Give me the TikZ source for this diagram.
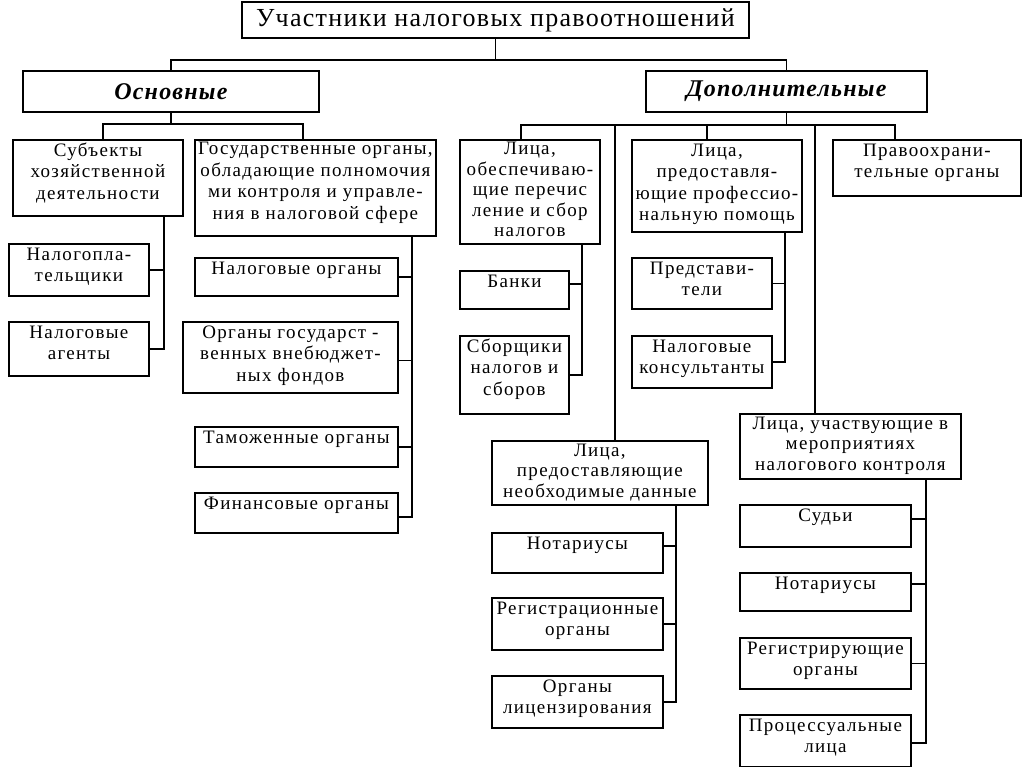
\documentclass[tikz,border=0pt]{standalone}
\usepackage{fontspec}
\setmainfont{Liberation Serif}[LetterSpace=7]
\newfontfamily\ttlfont{Liberation Serif}[LetterSpace=5]
\newfontfamily\hdfont{Liberation Serif}[LetterSpace=5]
\tikzset{
  box/.style={draw, line width=1.8pt, inner sep=0pt, anchor=north west,
    font=\fontsize{19}{21.5}\selectfont},
  hdr/.style={draw, line width=1.8pt, inner sep=0pt, anchor=north west,
    font=\hdfont\fontsize{24}{26}\selectfont\bfseries\itshape},
  ttl/.style={draw, line width=1.8pt, inner sep=0pt, anchor=north west,
    font=\ttlfont\fontsize{26}{28}\selectfont},
  conn/.style={line width=1.8pt},
}
\newcommand\mkbox[7][16.5]{\node[box] (#2) at (#3,#4) {\parbox[c][#6pt][t]{#5pt}{\centering\rule{0pt}{#1pt}#7}};}
\newcommand\tight{\fontsize{19}{20.5}\selectfont}
\begin{document}
\begin{tikzpicture}[x=1pt,y=-1pt]
\useasboundingbox[fill=white] (0,0) rectangle (1024,767);
% headers
\node[ttl, minimum width=507pt, minimum height=36pt] (title) at (241,1) {\raisebox{2pt}{Участники налоговых правоотношений}};
\node[hdr, minimum width=296pt, minimum height=41pt] (osn) at (22,70) {Основные};
\node[hdr, minimum width=281pt, minimum height=41pt] (dop) at (645,70) {Дополнительные};
% left
\mkbox{subj}{12}{139}{170}{76}{Субъекты\\хозяйственной\\деятельности}
\mkbox[15]{gos}{194}{139}{241}{96}{Государственные органы,\\обладающие полномочия\\ми контроля и управле-\\ния в налоговой сфере}
\mkbox{nalpl}{8}{243}{140}{52}{Налогопла-\\тельщики}
\mkbox{agent}{8}{321}{140}{54}{Налоговые\\агенты}
\mkbox{nalorg}{194}{257}{203}{38}{Налоговые органы}
\mkbox{fond}{182}{321}{215}{71}{Органы государст -\\венных внебюджет-\\ных фондов}
\mkbox{tamoj}{194}{426}{203}{40}{Таможенные органы}
\mkbox{fin}{194}{492}{203}{40}{Финансовые органы}
% right
\mkbox[15]{lob}{459}{139}{140}{104}{\tight Лица,\\обеспечиваю-\\щие перечис\\ление и сбор\\налогов}
\mkbox{banki}{459}{270}{109}{38}{Банки}
\mkbox{sbor}{459}{335}{109}{78}{Сборщики\\налогов и\\сборов}
\mkbox{lpp}{631}{139}{170}{92}{Лица,\\предоставля-\\ющие профессио-\\нальную помощь}
\mkbox{predst}{631}{257}{140}{51}{Представи-\\тели}
\mkbox{kons}{631}{335}{140}{52}{Налоговые\\консультанты}
\mkbox{pravo}{832}{139}{188}{56}{Правоохрани-\\тельные органы}
\mkbox[15.5]{lnd}{491}{440}{216}{64}{\tight Лица,\\предоставляющие\\необходимые данные}
\mkbox{not1}{491}{532}{171}{40}{Нотариусы}
\mkbox{reg}{491}{597}{171}{52}{Регистрационные\\органы}
\mkbox{lic}{491}{675}{171}{52}{Органы\\лицензирования}
\mkbox[15.5]{luch}{739}{413}{221}{65}{\tight Лица, участвующие в\\мероприятиях\\налогового контроля}
\mkbox{sud}{739}{504}{171}{42}{Судьи}
\mkbox{not2}{739}{572}{171}{38}{Нотариусы}
\mkbox{regir}{739}{637}{171}{51}{Регистрирующие\\органы}
\mkbox{proc}{739}{714}{171}{52}{Процессуальные\\лица}
% connectors top
\coordinate (T1) at (494,60);
\draw[conn] (title.south) -- (title.south |- T1);
\draw[conn] (osn.north) |- (title.south |- T1) -| (dop.north);
% left level
\coordinate (L1) at (103,124); \coordinate (L2) at (303,124);
\draw[conn] (osn.south) -- (osn.south |- L1);
\draw[conn] (L1 |- subj.north) -- (L1) -- (L2) -- (L2 |- gos.north);
% right level
\coordinate (R1) at (521,125); \coordinate (R2) at (895,125);
\coordinate (R3) at (707,125); \coordinate (R4) at (615,125); \coordinate (R5) at (815,125);
\draw[conn] (dop.south) -- (dop.south |- R1);
\draw[conn] (R1 |- lob.north) -- (R1) -- (R2) -- (R2 |- pravo.north);
\draw[conn] (R3) -- (R3 |- lpp.north);
\draw[conn] (R4) -- (R4 |- lnd.north);
\draw[conn] (R5) -- (R5 |- luch.north);
% subjects branch
\coordinate (V1) at (164,0);
\draw[conn] (V1 |- subj.south) |- (agent.east);
\draw[conn] (nalpl.east) -- (nalpl.east -| V1);
% gos branch
\coordinate (V2) at (412,0);
\draw[conn] (V2 |- gos.south) |- ([yshift=-4pt]fin.east);
\draw[conn] (nalorg.east) -- (nalorg.east -| V2);
\draw[conn] ([yshift=-3pt]fond.east) -- ([yshift=-3pt]fond.east -| V2);
\draw[conn] (tamoj.east) -- (tamoj.east -| V2);
% lob branch
\coordinate (V3) at (582,0);
\draw[conn] (V3 |- lob.south) |- (sbor.east);
\draw[conn] ([yshift=6pt]banki.east) -- ([yshift=6pt]banki.east -| V3);
% lpp branch
\coordinate (V4) at (785,0);
\draw[conn] (V4 |- lpp.south) |- (kons.east);
\draw[conn] (predst.east) -- (predst.east -| V4);
% lnd branch
\coordinate (V5) at (676,0);
\draw[conn] (V5 |- lnd.south) |- (lic.east);
\draw[conn] ([yshift=7pt]not1.east) -- ([yshift=7pt]not1.east -| V5);
\draw[conn] (reg.east) -- (reg.east -| V5);
% luch branch
\coordinate (V6) at (926,0);
\draw[conn] (V6 |- luch.south) |- ([yshift=-2pt]proc.east);
\draw[conn] ([yshift=7pt]sud.east) -- ([yshift=7pt]sud.east -| V6);
\draw[conn] ([yshift=8pt]not2.east) -- ([yshift=8pt]not2.east -| V6);
\draw[conn] (regir.east) -- (regir.east -| V6);
\end{tikzpicture}
\end{document}
